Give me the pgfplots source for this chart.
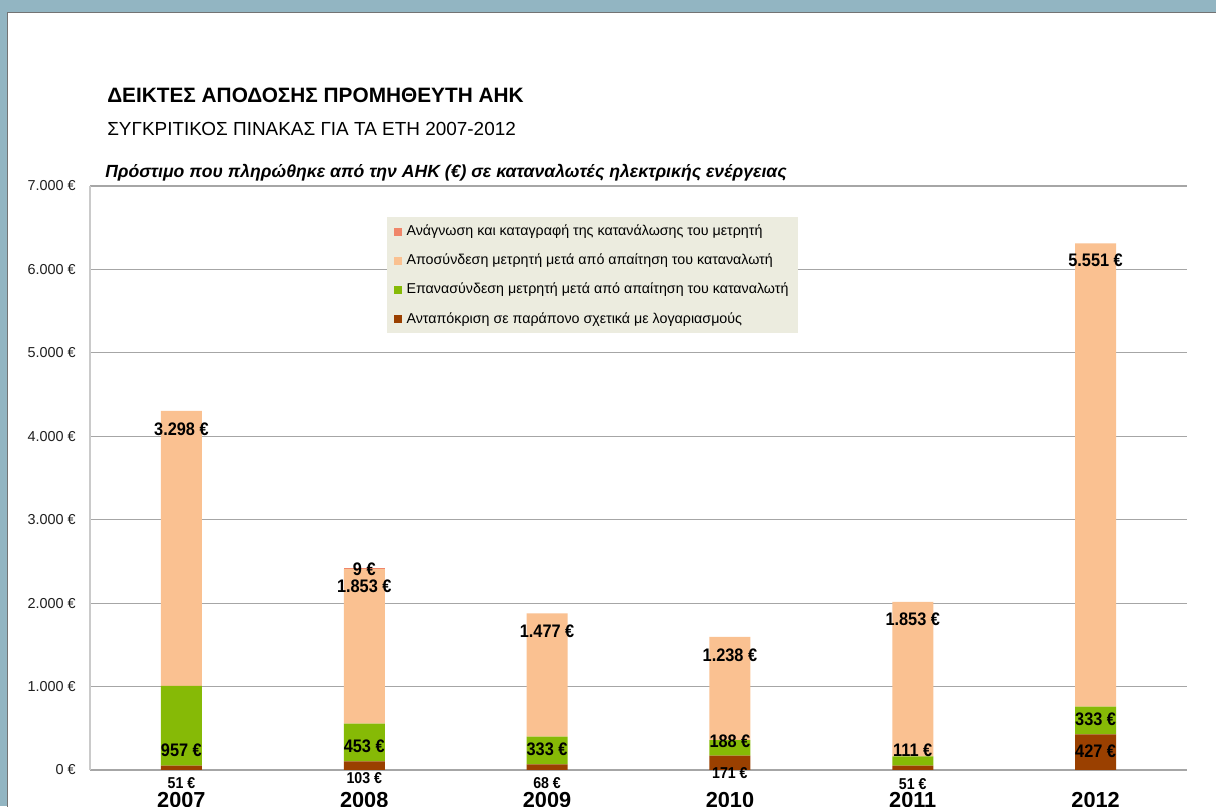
\documentclass[border=0pt]{standalone}
\usepackage{pgfplots}
\pgfplotsset{compat=1.18}
\usetikzlibrary{backgrounds}
\usepackage{fontspec}
\setmainfont{Liberation Sans}
\newfontfamily\lbl[FakeStretch=0.9]{Liberation Sans}
\definecolor{frame}{HTML}{92B5C2}
\definecolor{cA}{HTML}{F0866A}
\definecolor{cB}{HTML}{FAC191}
\definecolor{cC}{HTML}{86BA06}
\definecolor{cD}{HTML}{9A4000}
\definecolor{legbg}{HTML}{ECECDF}
\definecolor{gridc}{HTML}{A6A6A6}
\pgfplotsset{sq/.style={legend image code/.code={\fill[##1,draw=none] (0pt,-3pt) rectangle (6pt,3pt);}}}
\tikzset{lb/.style={font=\lbl\bfseries\fontsize{13.6}{15}\selectfont, inner sep=0pt, anchor=center},
         lbs/.style={font=\lbl\bfseries\fontsize{11.8}{13}\selectfont, inner sep=0pt, anchor=center}}
\begin{document}
\begin{tikzpicture}[x=0.75pt,y=0.75pt]
\begin{axis}[
  scale only axis,
  width=822.75pt, height=438pt,
  ybar stacked, bar width=30.75pt,
  xmin=-0.5, xmax=5.5, ymin=0, ymax=7000,
  xtick={0,1,2,3,4,5}, xticklabels={2007,2008,2009,2010,2011,2012},
  ytick={0,1000,2000,3000,4000,5000,6000,7000},
  yticklabels={0 €,1.000 €,2.000 €,3.000 €,4.000 €,5.000 €,6.000 €,7.000 €},
  ymajorgrids, grid style={draw=gridc, line width=0.8pt},
  axis line style={draw=none},
  major tick length=0pt,
  yticklabel style={font=\fontsize{10.8}{12}\selectfont, text=black!88, anchor=east, inner sep=0pt, xshift=-10.5pt},
  xticklabel style={font=\bfseries\fontsize{16.3}{18}\selectfont, anchor=north, inner sep=0pt, yshift=-16.5pt},
  clip=false,
  reverse legend,
  legend cell align=left,
  legend style={at={(0.2707,0.947)}, anchor=north west, fill=legbg, draw=none,
    font=\fontsize{10.7}{12}\selectfont, row sep=8.2pt, inner xsep=5pt, inner ysep=4pt,
    /tikz/every odd column/.append style={column sep=1.5pt}},
]
\addplot[fill=cD, draw=none, sq] coordinates {(0,51) (1,103) (2,68) (3,171) (4,51) (5,427)};
\addlegendentry{Ανταπόκριση σε παράπονο σχετικά με λογαριασμούς}
\addplot[fill=cC, draw=none, sq] coordinates {(0,957) (1,453) (2,333) (3,188) (4,111) (5,333)};
\addlegendentry{Επανασύνδεση μετρητή μετά από απαίτηση του καταναλωτή}
\addplot[fill=cB, draw=none, sq] coordinates {(0,3298) (1,1853) (2,1477) (3,1238) (4,1853) (5,5551)};
\addlegendentry{Αποσύνδεση μετρητή μετά από απαίτηση του καταναλωτή}
\addplot[fill=cA, draw=none, sq] coordinates {(0,0) (1,9) (2,0) (3,0) (4,0) (5,0)};
\addlegendentry{Ανάγνωση και καταγραφή της κατανάλωσης του μετρητή}
\draw[gridc!60, line width=0.8pt] (axis cs:-0.5,0) -- (axis cs:-0.5,7000);
\coordinate (O) at (rel axis cs:0,0);
\coordinate (a1) at (axis cs:0,240);
\coordinate (a2) at (axis cs:0,4087);
\coordinate (b1) at (axis cs:1,288);
\coordinate (b2) at (axis cs:1,2200);
\coordinate (b3) at (axis cs:1,2404);
\coordinate (c1) at (axis cs:2,252);
\coordinate (c2) at (axis cs:2,1659);
\coordinate (d1) at (axis cs:3,349);
\coordinate (d2) at (axis cs:3,1370);
\coordinate (e1) at (axis cs:4,240);
\coordinate (e2) at (axis cs:4,1803);
\coordinate (f0) at (axis cs:5,228);
\coordinate (f1) at (axis cs:5,613);
\coordinate (f2) at (axis cs:5,6106);
\coordinate (a0) at (axis cs:0,-156);
\coordinate (b0) at (axis cs:1,-96);
\coordinate (c0) at (axis cs:2,-156);
\coordinate (d0) at (axis cs:3,-36);
\coordinate (e0) at (axis cs:4,-168);
\end{axis}
\node[lb] at (a1) {957 €};
\node[lb] at (a2) {3.298 €};
\node[lb] at (b1) {453 €};
\node[lb] at (b2) {1.853 €};
\node[lb] at (b3) {9 €};
\node[lb] at (c1) {333 €};
\node[lb] at (c2) {1.477 €};
\node[lb] at (d1) {188 €};
\node[lb] at (d2) {1.238 €};
\node[lb] at (e1) {111 €};
\node[lb] at (e2) {1.853 €};
\node[lb] at (f0) {427 €};
\node[lb] at (f1) {333 €};
\node[lb] at (f2) {5.551 €};
\node[lbs] at (a0) {51 €};
\node[lbs] at (b0) {103 €};
\node[lbs] at (c0) {68 €};
\node[lbs] at (d0) {171 €};
\node[lbs] at (e0) {51 €};
\pgfresetboundingbox
\begin{scope}[shift={(O)}, xshift=-67.5pt, yshift=-27pt]
\path[use as bounding box] (0,0) rectangle (1216,806);
\node[anchor=base west, font=\bfseries\fontsize{15.6}{18}\selectfont, inner sep=0] at (107,703) {ΔΕΙΚΤΕΣ ΑΠΟΔΟΣΗΣ ΠΡΟΜΗΘΕΥΤΗ ΑΗΚ};
\node[anchor=base west, font=\fontsize{14.2}{16}\selectfont, inner sep=0] at (107,670) {ΣΥΓΚΡΙΤΙΚΟΣ ΠΙΝΑΚΑΣ ΓΙΑ ΤΑ ΕΤΗ 2007-2012};
\node[anchor=base west, font=\bfseries\itshape\fontsize{13.2}{15}\selectfont, inner sep=0] at (105,628.5) {Πρόστιμο που πληρώθηκε από την ΑΗΚ (€) σε καταναλωτές ηλεκτρικής ενέργειας};
\begin{pgfonlayer}{background}
\fill[frame] (0,0) rectangle (1216,806);
\fill[white, draw=gray!90!black, line width=1.1pt] (7.5,-10) rectangle (1240,793.5);
\end{pgfonlayer}
\end{scope}
\end{tikzpicture}
\end{document}
